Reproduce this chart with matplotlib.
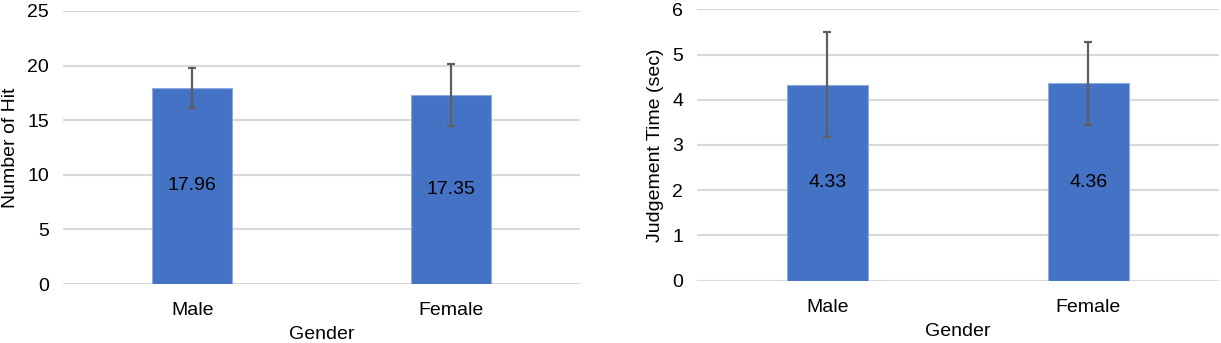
import numpy as np
import matplotlib.pyplot as plt

# group means and standard deviations
genders = ["Male", "Female"]
hit_mean = [17.96, 17.35]
hit_sd = [1.83, 2.84]
time_mean = [4.33, 4.36]
time_sd = [1.16, 0.92]

plt.rcParams.update({
    "font.family": ["Liberation Sans", "DejaVu Sans"],
    "font.size": 14,
})

BAR = "#4472C4"
GRID = "#d9d9d9"
ERR = "#5f5f5f"

fig = plt.figure(figsize=(12.21, 3.43), dpi=100)
ax1 = fig.add_axes([0.0516, 0.172, 0.4234, 0.796])
ax2 = fig.add_axes([0.5708, 0.1816, 0.4275, 0.7914])


def draw(ax, means, sds, ylim, step, ylabel):
    x = np.arange(len(genders))
    bars = ax.bar(x, means, width=0.31, color=BAR, edgecolor="#8faadc",
                  linewidth=0.8, zorder=2)
    ax.errorbar(x, means, yerr=sds, fmt="none", ecolor=ERR, elinewidth=1.6,
                capsize=2.8, capthick=1.6, zorder=3)
    for b, v in zip(bars, means):
        ax.text(b.get_x() + b.get_width() / 2, v / 2, f"{v:.2f}",
                ha="center", va="center", fontsize=14, color="black", zorder=4)
    ax.set_xlim(-0.5, len(genders) - 0.5)
    ax.set_ylim(*ylim)
    ax.set_yticks(np.arange(ylim[0], ylim[1] + step / 2, step))
    ax.set_xticks(x)
    ax.set_xticklabels(genders)
    ax.grid(True, axis="y", color=GRID, linewidth=1.5, zorder=0)
    ax.set_axisbelow(True)
    for s in ax.spines.values():
        s.set_visible(False)
    ax.tick_params(length=0, labelsize=14, pad=10)
    ax.tick_params(axis="x", pad=13)
    ax.set_xlabel("Gender", fontsize=14, labelpad=5)
    ax.set_ylabel(ylabel, fontsize=14, labelpad=6)


draw(ax1, hit_mean, hit_sd, (0, 25), 5, "Number of Hit")
draw(ax2, time_mean, time_sd, (0, 6), 1, "Judgement Time (sec)")

fig.savefig("out.png", dpi=100)
